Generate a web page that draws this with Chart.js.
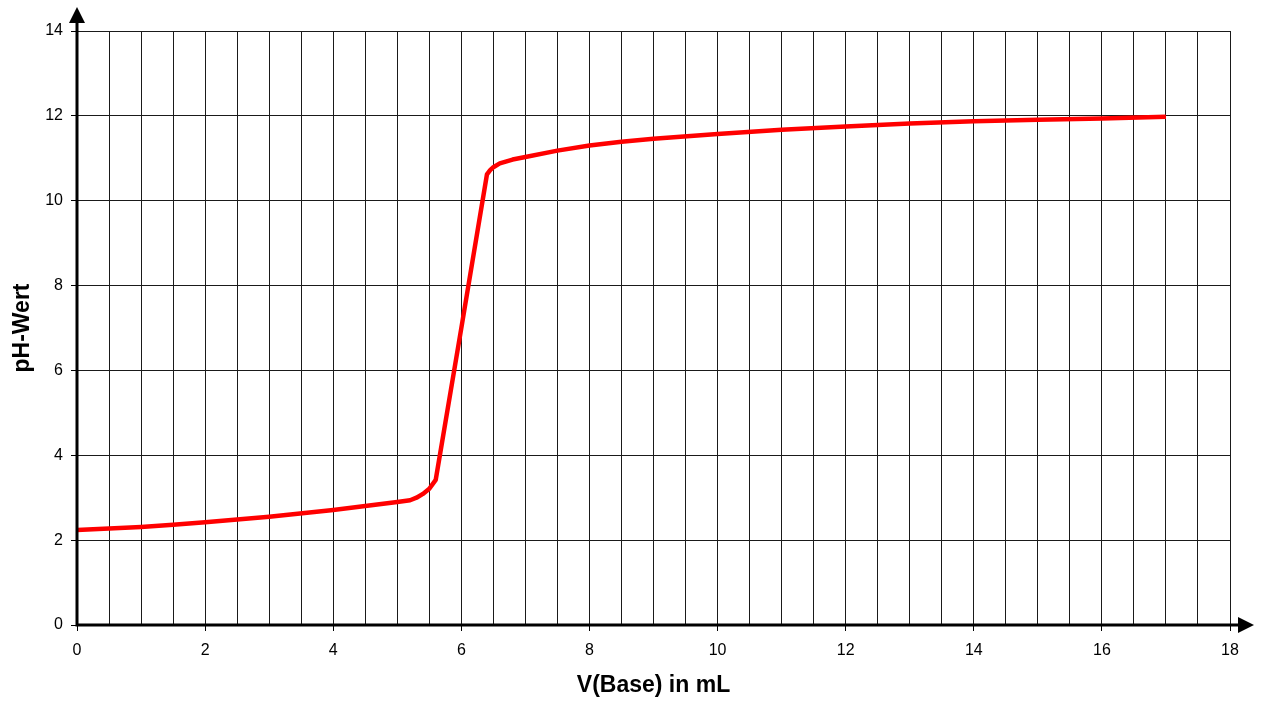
<!DOCTYPE html>
<html>
<head>
<meta charset="utf-8">
<script src="https://cdn.jsdelivr.net/npm/chart.js@4/dist/chart.umd.min.js"></script>
<style>
  html, body { margin: 0; padding: 0; background: #fff; }
  #wrap { width: 1261px; height: 707px; }
</style>
</head>
<body>
<div id="wrap"><canvas id="titration"></canvas></div>
<script>
// Titrationskurve: Volumen Base (mL) gegen pH-Wert
const volumeBase = [0, 1, 1.5, 2, 3, 4, 5, 5.2, 5.3, 5.4, 5.5, 5.6, 6.0, 6.4, 6.45, 6.5, 6.6, 6.8, 7, 7.5, 8, 8.5, 9, 10, 11, 12, 13, 14, 15, 16, 17];
const phWert = [2.24, 2.31, 2.36, 2.42, 2.55, 2.71, 2.9, 2.94, 3.0, 3.09, 3.21, 3.42, 7.0, 10.62, 10.72, 10.79, 10.88, 10.97, 11.03, 11.18, 11.3, 11.39, 11.46, 11.57, 11.67, 11.75, 11.82, 11.87, 11.91, 11.94, 11.98];
const xTickLabels = [0, 2, 4, 6, 8, 10, 12, 14, 16, 18];
const yTickLabels = [0, 2, 4, 6, 8, 10, 12, 14];

const points = volumeBase.map((v, i) => ({ x: v, y: phWert[i] }));

// dicke Achsen mit Pfeilspitzen
const axisArrows = {
  id: 'axisArrows',
  afterDraw(chart) {
    const { ctx, chartArea: a } = chart;
    ctx.save();
    ctx.strokeStyle = '#000';
    ctx.fillStyle = '#000';
    ctx.lineWidth = 3;
    ctx.beginPath();
    ctx.moveTo(a.left, a.bottom + 1.5);
    ctx.lineTo(a.left, a.top - 9);
    ctx.moveTo(a.left - 1.5, a.bottom);
    ctx.lineTo(a.right + 9, a.bottom);
    ctx.stroke();
    // Pfeil oben
    ctx.beginPath();
    ctx.moveTo(a.left, a.top - 24);
    ctx.lineTo(a.left - 8, a.top - 8);
    ctx.lineTo(a.left + 8, a.top - 8);
    ctx.closePath();
    ctx.fill();
    // Pfeil rechts
    ctx.beginPath();
    ctx.moveTo(a.right + 24, a.bottom);
    ctx.lineTo(a.right + 8, a.bottom - 8);
    ctx.lineTo(a.right + 8, a.bottom + 8);
    ctx.closePath();
    ctx.fill();
    ctx.restore();
  }
};

const ctx = document.getElementById('titration');
new Chart(ctx, {
  type: 'scatter',
  data: {
    datasets: [{
      label: 'pH-Wert',
      data: points,
      showLine: true,
      borderColor: '#ff0000',
      backgroundColor: '#ff0000',
      borderWidth: 4.5,
      borderJoinStyle: 'round',
      pointRadius: 0,
      tension: 0
    }]
  },
  options: {
    responsive: true,
    maintainAspectRatio: false,
    animation: false,
    layout: { padding: { top: 31, right: 31, left: 0, bottom: 0 } },
    plugins: {
      legend: { display: false },
      tooltip: { enabled: false }
    },
    scales: {
      x: {
        type: 'linear',
        min: 0,
        max: 18,
        afterFit: (scale) => { scale.height = 82; },
        border: { display: false },
        grid: {
          color: '#1a1a1a',
          lineWidth: 1,
          tickLength: 6,
          tickColor: (c) => (xTickLabels.includes(c.tick.value) ? '#000' : 'rgba(0,0,0,0)')
        },
        ticks: {
          stepSize: 0.5,
          maxTicksLimit: 40,
          autoSkip: false,
          maxRotation: 0,
          padding: 10,
          color: '#000',
          font: { family: 'Liberation Sans, Arial, sans-serif', size: 16 },
          callback: (v) => (xTickLabels.includes(v) ? v : '')
        },
        title: {
          display: true,
          text: 'V(Base) in mL',
          color: '#000',
          font: { family: 'Liberation Sans, Arial, sans-serif', size: 23, weight: 'bold' },
          padding: { top: 0, bottom: 8 }
        }
      },
      y: {
        type: 'linear',
        min: 0,
        max: 14,
        afterFit: (scale) => { scale.width = 77; },
        border: { display: false },
        grid: {
          color: '#1a1a1a',
          lineWidth: 1,
          tickLength: 6,
          tickColor: '#000'
        },
        ticks: {
          stepSize: 2,
          padding: 8,
          color: '#000',
          font: { family: 'Liberation Sans, Arial, sans-serif', size: 16 },
          callback: (v) => (yTickLabels.includes(v) ? v : '')
        },
        title: {
          display: true,
          text: 'pH-Wert',
          color: '#000',
          font: { family: 'Liberation Sans, Arial, sans-serif', size: 23, weight: 'bold' },
          padding: { top: 9, bottom: 0 }
        }
      }
    }
  },
  plugins: [axisArrows]
});
</script>
</body>
</html>
